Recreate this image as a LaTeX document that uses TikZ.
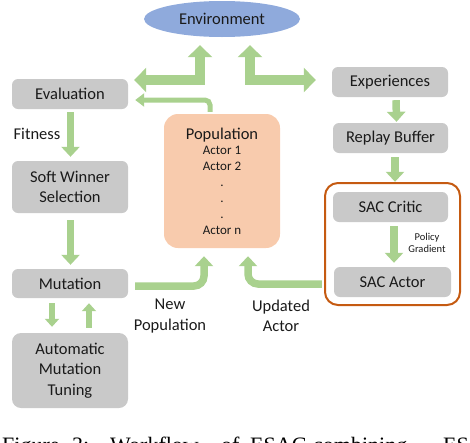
\documentclass[tikz,border=0pt]{standalone}
\usepackage{fontspec}
\setmainfont{Carlito}
\newfontfamily\capfont{Liberation Serif}
\usetikzlibrary{shapes.geometric,arrows.meta}
\definecolor{boxgray}{HTML}{C9C9C9}
\definecolor{arrowgreen}{HTML}{A9D18E}
\definecolor{envblue}{HTML}{8FAADC}
\definecolor{poppeach}{HTML}{F8CBAD}
\definecolor{frameorange}{HTML}{C55A11}
\definecolor{txt}{HTML}{1A1A1A}

\begin{document}
\begin{tikzpicture}[x=1pt,y=-1pt,
	box/.style={fill=boxgray, rounded corners=6pt, align=center, inner sep=0pt, text=txt,
		minimum width=116pt, minimum height=30pt, font=\fontsize{16.5}{20.5}\selectfont},
	lbl/.style={align=center, text=txt, inner sep=0pt, font=\fontsize{16.5}{20.5}\selectfont},
	garrow/.style={draw=arrowgreen, line width=7.5pt, -{Triangle[width=18pt,length=10pt]}},
	gsmall/.style={draw=arrowgreen, line width=6.5pt, -{Triangle[width=14pt,length=8pt]}},
	gthin/.style={draw=arrowgreen, line width=5pt, -{Triangle[width=13pt,length=9pt]}},
	genv/.style={draw=arrowgreen, line width=10pt, line join=miter,
		{Triangle[width=24pt,length=12pt]}-{Triangle[width=24pt,length=12pt]}},
	capword/.style={anchor=base west, inner sep=0pt, font=\capfont\fontsize{22}{26}\selectfont}]
	\useasboundingbox (0,0) rectangle (470,442);
	\clip (0,0) rectangle (470,442);
	% nodes
	\node[ellipse, fill=envblue, minimum width=156pt, minimum height=36pt, inner sep=0pt,
		text=txt, font=\fontsize{16.5}{20.5}\selectfont] (env) at (222,19) {Environment};
	\node[box] (eval) at (70,94) {Evaluation};
	\node[box, minimum height=52pt] (soft) at (70,187) {Soft Winner\\Selection};
	\node[box, minimum height=29pt] (mut) at (70,283.5) {Mutation};
	\node[box, minimum height=75pt, rounded corners=9pt] (auto) at (70,370.5) {Automatic\\Mutation\\Tuning};
	\node[fill=poppeach, rounded corners=14pt, minimum width=116pt, minimum height=134pt,
		align=center, text=txt, inner sep=0pt, font=\fontsize{13}{16}\selectfont] (pop) at (222,181)
		{{\fontsize{16.5}{18}\selectfont Population}\\[-1pt] Actor 1\\ Actor 2\\ .\\ .\\ .\\ Actor n};
	\node[box] (exp) at (390,82) {Experiences};
	\node[box, minimum width=115pt] (replay) at (390.5,138) {Replay Buffer};
	\node[draw=frameorange, line width=2pt, rounded corners=13pt, minimum width=135pt,
		minimum height=122pt] (sacframe) at (392.5,244) {};
	\node[box, minimum width=115pt] (critic) at (390.5,207) {SAC Critic};
	\node[box, minimum width=117pt] (sacactor) at (392.5,282) {SAC Actor};
	% labels
	\node[lbl] (fit) at (37,134) {Fitness};
	\node[lbl, font=\fontsize{10.5}{12.5}\selectfont] (pg) at (427,243) {Policy\\Gradient};
	\node[lbl] (newpop) at (170,316) {New\\Population};
	\node[lbl] (upd) at (281,316) {Updated\\Actor};
	% arrows
	\draw[garrow, shorten <=3pt, shorten >=4pt] ([xshift=0.5pt]eval.south) -- ([xshift=0.5pt]soft.north);
	\draw[garrow, shorten <=7pt, shorten >=4pt] ([xshift=0.5pt]soft.south) -- ([xshift=0.5pt]mut.north);
	\draw[gsmall, shorten <=5pt, shorten >=6pt] ([xshift=-18pt]mut.south) -- ([xshift=-18pt]auto.north);
	\draw[gsmall, shorten <=5pt, shorten >=5pt] ([xshift=19pt]auto.north) -- ([xshift=19pt]mut.south);
	\draw[garrow, shorten <=3pt, shorten >=1pt] ([xshift=6pt]exp.south) -- ([xshift=6pt]replay.north);
	\draw[garrow, shorten <=4pt, shorten >=10pt] ([xshift=4.5pt]replay.south) -- ([xshift=4.5pt]critic.north);
	\draw[garrow, shorten <=4pt, shorten >=4pt] ([xshift=3.5pt]critic.south) -- ([xshift=1.5pt]sacactor.north);
	\draw[genv, shorten <=8pt] ([xshift=-22pt]env.south) |- ([xshift=6pt,yshift=14pt]eval.east);
	\draw[genv, shorten <=8pt] ([xshift=28pt]env.south) |- ([xshift=-16pt,yshift=2pt]exp.west);
	\draw[gthin, rounded corners=5pt, shorten <=2pt] ([xshift=-12pt]pop.north) |- ([xshift=7pt,yshift=-6pt]eval.east);
	\draw[garrow, rounded corners=10pt] ([xshift=7pt,yshift=-2.5pt]mut.east) -| ([xshift=-18pt,yshift=-8pt]pop.south);
	\draw[garrow, rounded corners=10pt] ([xshift=-12pt,yshift=-2pt]sacactor.west) -| ([xshift=26pt,yshift=-8pt]pop.south);
	% caption, cut off by the page edge
	\node[capword] (c1) at (2,452) {Figure};
	\node[capword] (c2) at (72,452) {3:};
	\node[capword] (c3) at (110,452) {Workflow};
	\node[capword] (c4) at (221,452) {of};
	\node[capword] (c5) at (250,452) {ESAC};
	\node[capword] (c6) at (313,452) {combining};
	\node[capword] (c7) at (443,452) {ES};
\end{tikzpicture}
\end{document}
